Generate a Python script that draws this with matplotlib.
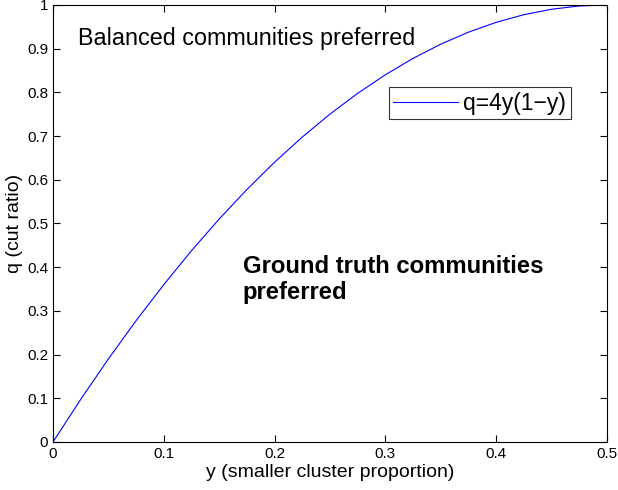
import matplotlib
matplotlib.use("Agg")
import matplotlib.pyplot as plt

# values
y_vals = [0.0, 0.025, 0.05, 0.075, 0.1, 0.125, 0.15, 0.175, 0.2, 0.225, 0.25,
          0.275, 0.3, 0.325, 0.35, 0.375, 0.4, 0.425, 0.45, 0.475, 0.5]
q_vals = [0.0, 0.0975, 0.19, 0.2775, 0.36, 0.4375, 0.51, 0.5775, 0.64, 0.6975, 0.75,
          0.7975, 0.84, 0.8775, 0.91, 0.9375, 0.96, 0.9775, 0.99, 0.9975, 1.0]
x_ticks = [0, 0.1, 0.2, 0.3, 0.4, 0.5]
y_ticks = [0, 0.1, 0.2, 0.3, 0.4, 0.5, 0.6, 0.7, 0.8, 0.9, 1]

plt.rcParams['font.family'] = ['Liberation Sans', 'DejaVu Sans']

fig = plt.figure(figsize=(6.18, 4.9), dpi=100)
ax = fig.add_axes([0.0858, 0.098, 0.896, 0.892])

ax.plot(y_vals, q_vals, color='blue', linewidth=0.8, label='q=4y(1\u2212y)')
ax.set_xlim(0, 0.5)
ax.set_ylim(0, 1)
ax.set_xticks(x_ticks)
ax.set_xticklabels([f"{t:g}" for t in x_ticks])
ax.set_yticks(y_ticks)
ax.set_yticklabels([f"{t:g}" for t in y_ticks])
ax.tick_params(direction='in', top=True, right=True, labelsize=11, length=5, width=0.8)
for s in ax.spines.values():
    s.set_linewidth(0.8)

ax.set_xlabel('y (smaller cluster proportion)', fontsize=14, labelpad=2)
ax.set_ylabel('q (cut ratio)', fontsize=14, labelpad=3)

ax.text(0.0226, 0.922, 'Balanced communities preferred', fontsize=16.8, va='center')
ax.text(0.1715, 0.372, 'Ground truth communities\npreferred', fontsize=17.2,
        fontweight='bold', va='center', linespacing=1.15)

leg = ax.legend(loc='upper left', bbox_to_anchor=(0.6065, 0.812), fontsize=16.5,
                frameon=True, fancybox=False, borderpad=0.2, handlelength=2.8,
                handletextpad=0.25, borderaxespad=0)
leg.get_frame().set_edgecolor('black')
leg.get_frame().set_linewidth(0.8)

fig.savefig('out.png', dpi=100)
